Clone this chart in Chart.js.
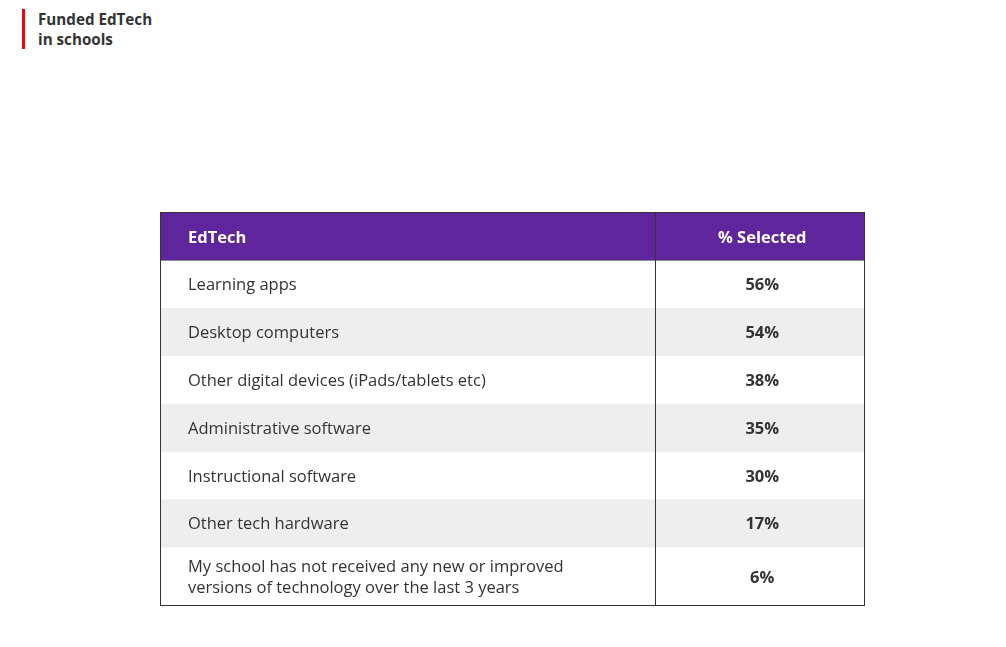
<!DOCTYPE html>
<html>
<head>
<meta charset="utf-8">
<script src="https://cdn.jsdelivr.net/npm/chart.js@4/dist/chart.umd.min.js"></script>
<style>
  html,body{margin:0;padding:0;background:#fff;}
  #wrap{position:relative;width:1006px;height:647px;}
  #title{position:absolute;left:22px;top:9px;border-left:3px solid #e30613;padding-left:13px;
    font-family:"Open Sans",sans-serif;font-weight:700;font-size:15.2px;line-height:20px;color:#333;}
  canvas{position:absolute;left:0;top:0;}
</style>
</head>
<body>
<div id="wrap">
  <div id="title">Funded EdTech<br>in schools</div>
  <canvas id="c" width="1006" height="647"></canvas>
</div>
<script>
const headers = ["EdTech", "% Selected"];
const categories = [
  ["Learning apps"],
  ["Desktop computers"],
  ["Other digital devices (iPads/tablets etc)"],
  ["Administrative software"],
  ["Instructional software"],
  ["Other tech hardware"],
  ["My school has not received any new or improved", "versions of technology over the last 3 years"]
];
const values = [56, 54, 38, 35, 30, 17, 6];

// row layout built from content (line counts)
const PURPLE = "#5e259d", GREY = "#eeeeee", WHITE = "#ffffff", TEXT = "#333333";
const EXTRA_LINE = 0.23;
const FONT = '"Open Sans", sans-serif';
const rows = [{lines:[headers[0]], value:headers[1], header:true}]
  .concat(categories.map((c,i)=>({lines:c, value:values[i]+"%", header:false})));
let acc = 0;
const bands = rows.map(r=>{ const h = 1 + EXTRA_LINE*(r.lines.length-1); const b=[acc, acc+h]; acc+=h; return b; });
const total = acc;

const datasets = rows.map((r,i)=>({
  data:[bands[i]],
  backgroundColor: r.header ? PURPLE : (i%2===1 ? WHITE : GREY),
  borderWidth:0,
  grouped:false,
  barPercentage:1,
  categoryPercentage:1
}));

const COL_SPLIT = 0.702;
const tablePlugin = {
  id:'tableText',
  afterDatasetsDraw(chart){
    const ctx = chart.ctx, a = chart.chartArea;
    const splitX = Math.round(a.left + (a.right-a.left)*COL_SPLIT) + 0.5;
    const valX = (splitX + a.right)/2 + 2;
    ctx.save();
    rows.forEach((r,i)=>{
      const el = chart.getDatasetMeta(i).data[0];
      const top = Math.min(el.y, el.base), bot = Math.max(el.y, el.base);
      const mid = (top+bot)/2 + (r.header ? 2 : 1.5);
      ctx.textBaseline = 'middle';
      ctx.fillStyle = r.header ? '#ffffff' : TEXT;
      ctx.font = (r.header ? '700 ' : '400 ') + '16.5px ' + FONT;
      ctx.textAlign = 'left';
      const lh = 21;
      r.lines.forEach((ln,k)=>{
        ctx.fillText(ln, a.left + 28, mid + (k - (r.lines.length-1)/2)*lh);
      });
      ctx.font = '700 16.5px ' + FONT;
      ctx.textAlign = 'center';
      ctx.fillText(r.value, valX, mid);
      if (r.header) {
        ctx.strokeStyle = '#888888'; ctx.lineWidth = 1;
        ctx.beginPath(); ctx.moveTo(a.left, Math.round(bot)+0.5); ctx.lineTo(a.right, Math.round(bot)+0.5); ctx.stroke();
      }
    });
    ctx.strokeStyle = '#333333'; ctx.lineWidth = 1;
    ctx.beginPath(); ctx.moveTo(splitX, a.top); ctx.lineTo(splitX, a.bottom); ctx.stroke();
    ctx.strokeRect(Math.round(a.left)+0.5, Math.round(a.top)+0.5, Math.round(a.right-a.left)-1, Math.round(a.bottom-a.top)-1);
    ctx.restore();
  }
};

new Chart(document.getElementById('c'), {
  type:'bar',
  data:{labels:['table'], datasets},
  options:{
    responsive:false,
    animation:false,
    layout:{padding:{left:160, right:141, top:212, bottom:41}},
    plugins:{legend:{display:false}, tooltip:{enabled:false}},
    scales:{
      x:{display:false},
      y:{display:false, min:0, max:total, reverse:true}
    }
  },
  plugins:[tablePlugin]
});
</script>
</body>
</html>
